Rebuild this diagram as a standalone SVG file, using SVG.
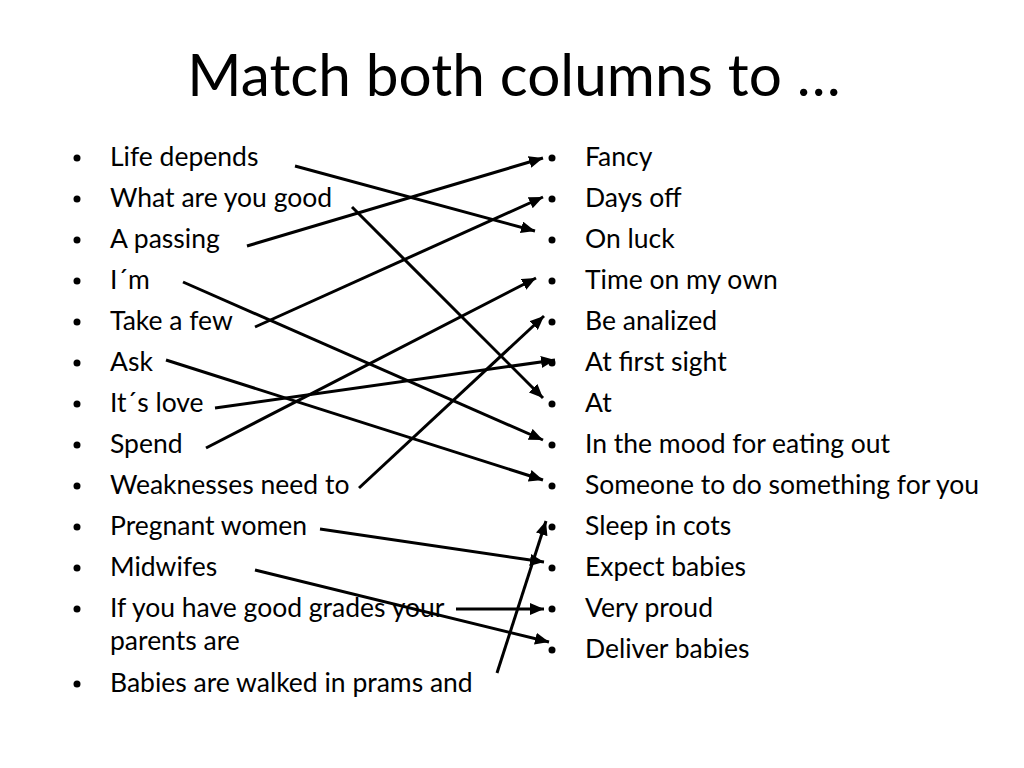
<svg xmlns="http://www.w3.org/2000/svg" width="1024" height="768" viewBox="0 0 1024 768">
<defs>
<style>
.t{font-family:Lato,"Open Sans","Liberation Sans",sans-serif;font-size:26.5px;fill:#000}
.ti{font-family:Lato,"Open Sans","Liberation Sans",sans-serif;font-size:58.5px;fill:#000}
.c{stroke:#000;stroke-width:3;fill:none;marker-end:url(#ah)}
</style>
<marker id="ah" markerUnits="userSpaceOnUse" viewBox="0 0 14 12" refX="14" refY="6" markerWidth="14" markerHeight="12" orient="auto">
<path d="M0,0 L14,6 L0,12 z" fill="#000"/>
</marker>
</defs>
<rect width="1024" height="768" fill="#fff"/>
<text class="ti" x="514" y="96" text-anchor="middle">Match both columns to …</text>
<g id="left">
<g id="l1"><circle cx="77" cy="158" r="3.5"/><text class="t" x="110" y="166">Life depends</text></g>
<g id="l2"><circle cx="77" cy="199" r="3.5"/><text class="t" x="110" y="207">What are you good</text></g>
<g id="l3"><circle cx="77" cy="240" r="3.5"/><text class="t" x="110" y="248">A passing</text></g>
<g id="l4"><circle cx="77" cy="281" r="3.5"/><text class="t" x="110" y="289">I´m</text></g>
<g id="l5"><circle cx="77" cy="322" r="3.5"/><text class="t" x="110" y="330">Take a few</text></g>
<g id="l6"><circle cx="77" cy="363" r="3.5"/><text class="t" x="110" y="371">Ask</text></g>
<g id="l7"><circle cx="77" cy="404" r="3.5"/><text class="t" x="110" y="412">It´s love</text></g>
<g id="l8"><circle cx="77" cy="445" r="3.5"/><text class="t" x="110" y="453">Spend</text></g>
<g id="l9"><circle cx="77" cy="486" r="3.5"/><text class="t" x="110" y="494">Weaknesses need to</text></g>
<g id="l10"><circle cx="77" cy="527" r="3.5"/><text class="t" x="110" y="535">Pregnant women</text></g>
<g id="l11"><circle cx="77" cy="568" r="3.5"/><text class="t" x="110" y="576">Midwifes</text></g>
<g id="l12"><circle cx="77" cy="609" r="3.5"/><text class="t" x="110" y="617">If you have good grades your</text><text class="t" x="110" y="650">parents are</text></g>
<g id="l13"><circle cx="77" cy="684" r="3.5"/><text class="t" x="110" y="692">Babies are walked in prams and</text></g>
</g>
<g id="right">
<g id="r1"><circle cx="552" cy="158" r="3.5"/><text class="t" x="585" y="166">Fancy</text></g>
<g id="r2"><circle cx="552" cy="199" r="3.5"/><text class="t" x="585" y="207">Days off</text></g>
<g id="r3"><circle cx="552" cy="240" r="3.5"/><text class="t" x="585" y="248">On luck</text></g>
<g id="r4"><circle cx="552" cy="281" r="3.5"/><text class="t" x="585" y="289">Time on my own</text></g>
<g id="r5"><circle cx="552" cy="322" r="3.5"/><text class="t" x="585" y="330">Be analized</text></g>
<g id="r6"><circle cx="552" cy="363" r="3.5"/><text class="t" x="585" y="371">At first sight</text></g>
<g id="r7"><circle cx="552" cy="404" r="3.5"/><text class="t" x="585" y="412">At</text></g>
<g id="r8"><circle cx="552" cy="445" r="3.5"/><text class="t" x="585" y="453">In the mood for eating out</text></g>
<g id="r9"><circle cx="552" cy="486" r="3.5"/><text class="t" x="585" y="494">Someone to do something for you</text></g>
<g id="r10"><circle cx="552" cy="527" r="3.5"/><text class="t" x="585" y="535">Sleep in cots</text></g>
<g id="r11"><circle cx="552" cy="568" r="3.5"/><text class="t" x="585" y="576">Expect babies</text></g>
<g id="r12"><circle cx="552" cy="609" r="3.5"/><text class="t" x="585" y="617">Very proud</text></g>
<g id="r13"><circle cx="552" cy="650" r="3.5"/><text class="t" x="585" y="658">Deliver babies</text></g>
</g>
<g id="connectors">
<line class="c" x1="295" y1="166" x2="535" y2="231"/>
<line class="c" x1="352" y1="207" x2="543" y2="398"/>
<line class="c" x1="247" y1="246" x2="543" y2="158"/>
<line class="c" x1="183" y1="282" x2="543" y2="440"/>
<line class="c" x1="255" y1="327" x2="543" y2="197"/>
<line class="c" x1="166" y1="360" x2="543" y2="480"/>
<line class="c" x1="215" y1="408" x2="555" y2="360"/>
<line class="c" x1="206" y1="448" x2="536" y2="278"/>
<line class="c" x1="359" y1="488" x2="544" y2="316"/>
<line class="c" x1="320" y1="529" x2="544" y2="562"/>
<line class="c" x1="255" y1="570" x2="549" y2="642"/>
<line class="c" x1="456" y1="609" x2="544" y2="609"/>
<line class="c" x1="497" y1="673" x2="546" y2="521"/>
</g>
</svg>
